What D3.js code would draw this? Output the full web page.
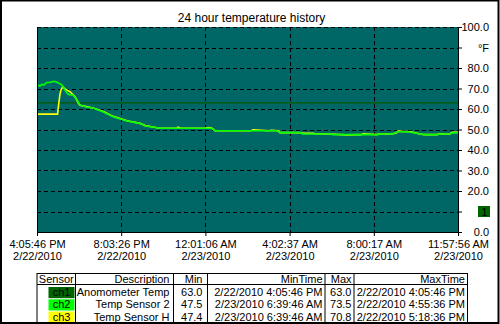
<!DOCTYPE html>
<html><head><meta charset="utf-8">
<script src="https://cdn.jsdelivr.net/npm/d3@7"></script>
<style>
html,body{margin:0;padding:0;background:#fff;}
svg{display:block;font-family:"Liberation Sans",Arial,sans-serif;}
</style></head>
<body><svg id="c" width="500" height="324"></svg>
<script>
// ---- data ----
const title = "24 hour temperature history";
const spanHours = 19.869;
const xTickLabels = [
  ["4:05:46 PM","2/22/2010"],["8:03:26 PM","2/22/2010"],["12:01:06 AM","2/23/2010"],
  ["4:02:37 AM","2/23/2010"],["8:00:17 AM","2/23/2010"],["11:57:56 AM","2/23/2010"]
];
const yTicks = [0,10,20,30,40,50,60,70,80,90,100];
const unitLabel = "°F";
// ch1: Anomometer Temp (constant)
const ch1Hours = [0, 19.869];
const ch1Values = [63.0, 63.0];
// ch2: Temp Sensor 2
const ch2Hours = [0,0.07,0.14,0.22,0.33,0.45,0.61,0.83,0.94,1.06,1.18,1.32,1.46,1.58,1.70,1.89,2.03,2.31,2.64,3.11,3.59,4.25,4.86,5.10,5.47,5.80,8.26,8.40,11.33,11.47,12.41,12.55,13.83,13.97,14.57,16.05,16.19,16.75,17.04,17.51,18.08,18.26,18.88,19.02,19.49,19.63,19.869];
const ch2Values = [70.9,71.6,71.2,72.0,71.8,72.9,73.0,73.5,73.0,72.4,71.7,69.3,67.3,66.8,66.8,64.4,62.0,61.0,60.5,58.7,56.2,54.1,53.0,51.7,51.2,50.6,50.6,49.4,49.4,48.5,48.5,47.8,47.8,47.5,47.5,47.5,47.8,47.8,48.9,48.9,47.8,47.5,47.5,47.8,47.8,48.4,48.4];
// ch3: Temp Sensor H
const ch3Hours = [0,0.97,1.02,1.08,1.13,1.21,1.32,1.56,1.80,1.94,2.03,2.31,2.64,3.11,3.59,4.25,4.86,5.10,5.47,5.80,6.60,6.65,6.80,7.90,8.10,8.26,8.40,10.10,10.20,10.95,11.05,11.40,11.47,12.41,12.55,13.00,13.10,13.70,13.83,14.57,15.30,15.40,16.00,16.19,16.75,16.95,17.04,17.51,17.60,18.08,18.26,18.88,19.02,19.49,19.60,19.869];
const ch3Values = [57.5,57.5,62.0,67.0,69.3,70.8,69.8,68.4,66.0,63.0,61.8,61.2,60.5,58.9,56.4,54.3,53.0,51.9,51.2,50.6,50.6,51.1,50.6,50.6,50.9,50.6,49.4,49.4,49.9,49.4,49.6,49.4,48.5,48.5,48.2,48.2,48.0,47.8,47.8,47.4,47.5,47.9,47.5,47.8,47.8,48.3,49.2,48.9,49.0,47.8,47.5,47.5,47.9,47.8,48.6,48.6];
// table
const tableHeaders = ["Sensor","Description","Min","MinTime","Max","MaxTime"];
const sensorNames = ["ch1","ch2","ch3"];
const sensorColors = ["#006400","#00ff00","#ffff00"];
const descriptions = ["Anomometer Temp","Temp Sensor 2","Temp Sensor H"];
const minValues = ["63.0","47.5","47.4"];
const minTimes = ["2/22/2010 4:05:46 PM","2/23/2010 6:39:46 AM","2/23/2010 6:39:46 AM"];
const maxValues = ["63.0","73.5","70.8"];
const maxTimes = ["2/22/2010 4:05:46 PM","2/22/2010 4:55:36 PM","2/22/2010 5:18:36 PM"];

// ---- drawing ----
const svg = d3.select("#c");
const L=37, R=458, T=27, B=232;
const x = d3.scaleLinear().domain([0, spanHours]).range([L, R]);
const y = d3.scaleLinear().domain([0, 100]).range([B, T]);

svg.append("rect").attr("x",L).attr("y",T).attr("width",R-L).attr("height",B-T).attr("fill","#006666");

// grid
const xTickVals = d3.range(6).map(i => i*spanHours/5);
const grid = svg.append("g").attr("stroke","#000").attr("stroke-width",1).attr("stroke-dasharray","4,3");
yTicks.filter(v=>v>0).forEach(v=>{
  grid.append("line").attr("x1",L).attr("x2",R).attr("y1",Math.round(y(v))+0.5).attr("y2",Math.round(y(v))+0.5);
});
xTickVals.slice(1,5).forEach(v=>{
  grid.append("line").attr("y1",T).attr("y2",B).attr("x1",Math.round(x(v))+0.5).attr("x2",Math.round(x(v))+0.5);
});

// lines
const mk = (hs, vs) => hs.map((h,i)=>[h, vs[i]]);
const line = d3.line().x(d=>x(d[0])).y(d=>y(d[1]));
svg.append("path").datum(mk(ch1Hours,ch1Values)).attr("d",line).attr("fill","none").attr("stroke","#005a00").attr("stroke-width",1.2);
svg.append("path").datum(mk(ch3Hours,ch3Values)).attr("d",line).attr("fill","none").attr("stroke",sensorColors[2]).attr("stroke-width",1.6);
svg.append("path").datum(mk(ch2Hours,ch2Values)).attr("d",line).attr("fill","none").attr("stroke",sensorColors[1]).attr("stroke-width",1.6);

// axes
const yAxis = d3.axisRight(y).tickValues(yTicks).tickSize(4).tickFormat(d => d===90 ? unitLabel : (d===10 ? "" : d.toFixed(1)));
const ya = svg.append("g").attr("transform",`translate(${R},0)`).call(yAxis);
ya.selectAll("text").attr("x",31).attr("text-anchor","end").style("font-size","11px").style("font-family","Liberation Sans, Arial, sans-serif").attr("fill","#000");
ya.select(".domain").attr("stroke","#000");
ya.selectAll(".tick line").attr("stroke","#000");
// indicator box at 10
svg.append("rect").attr("x",478).attr("y",y(10)-5.5).attr("width",12).attr("height",11).attr("fill","#006400");
svg.append("text").attr("x",484.5).attr("y",y(10)+4).attr("text-anchor","middle").style("font-size","11px").text("1");

const xAxis = d3.axisBottom(x).tickValues(xTickVals).tickSize(4).tickFormat("");
const xa = svg.append("g").attr("transform",`translate(0,${B})`).call(xAxis);
xa.select(".domain").attr("stroke","#000");
xa.selectAll(".tick line").attr("stroke","#000");
xa.selectAll(".tick").each(function(d,i){
  const t = d3.select(this).append("text").attr("fill","#000").attr("text-anchor","middle").style("font-size","11px").style("font-family","Liberation Sans, Arial, sans-serif");
  t.append("tspan").attr("x",0).attr("y",16).text(xTickLabels[i][0]);
  t.append("tspan").attr("x",0).attr("y",28).text(xTickLabels[i][1]);
});
// left border
svg.append("line").attr("x1",L+0.5).attr("x2",L+0.5).attr("y1",T).attr("y2",B).attr("stroke","#000");

// title
svg.append("text").attr("x",251.5).attr("y",21.5).attr("text-anchor","middle").style("font-size","12px").text(title);

// table
const colEdges = [37,75.5,173.5,207.5,325,354,467.5];
const pads = [0,4,5,2.5,2.5,2.5];
const tTop=273.5, hBot=284.5, tBot=323;
const tg = svg.append("g").style("font-size","11px");
tg.append("rect").attr("x",colEdges[0]).attr("y",tTop).attr("width",colEdges[6]-colEdges[0]).attr("height",tBot-tTop).attr("fill","none").attr("stroke","#000");
tg.append("line").attr("x1",colEdges[0]).attr("x2",colEdges[6]).attr("y1",hBot).attr("y2",hBot).attr("stroke","#000");
colEdges.slice(1,6).forEach(cx=>tg.append("line").attr("x1",cx).attr("x2",cx).attr("y1",tTop).attr("y2",tBot).attr("stroke","#000"));
tableHeaders.forEach((h,i)=>{
  if(i===0) tg.append("text").attr("x",(colEdges[0]+colEdges[1])/2).attr("y",282.5).attr("text-anchor","middle").text(h);
  else tg.append("text").attr("x",colEdges[i+1]-pads[i]).attr("y",282.5).attr("text-anchor","end").text(h);
});
const rowY = [296, 308.3, 320.5];
sensorNames.forEach((s,r)=>{
  tg.append("rect").attr("x",48.5).attr("y",rowY[r]-9).attr("width",26).attr("height",11.2).attr("fill",sensorColors[r]);
  tg.append("text").attr("x",61.5).attr("y",rowY[r]).attr("text-anchor","middle").text(s);
  const vals=[descriptions[r],minValues[r],minTimes[r],maxValues[r],maxTimes[r]];
  vals.forEach((v,j)=>{
    tg.append("text").attr("x",colEdges[j+2]-pads[j+1]).attr("y",rowY[r]).attr("text-anchor","end").text(v);
  });
});

// outer frame
svg.append("rect").attr("x",1).attr("y",0.5).attr("width",497.5).attr("height",322.5).attr("fill","none").attr("stroke","#000").attr("stroke-width",2);
</script></body></html>
